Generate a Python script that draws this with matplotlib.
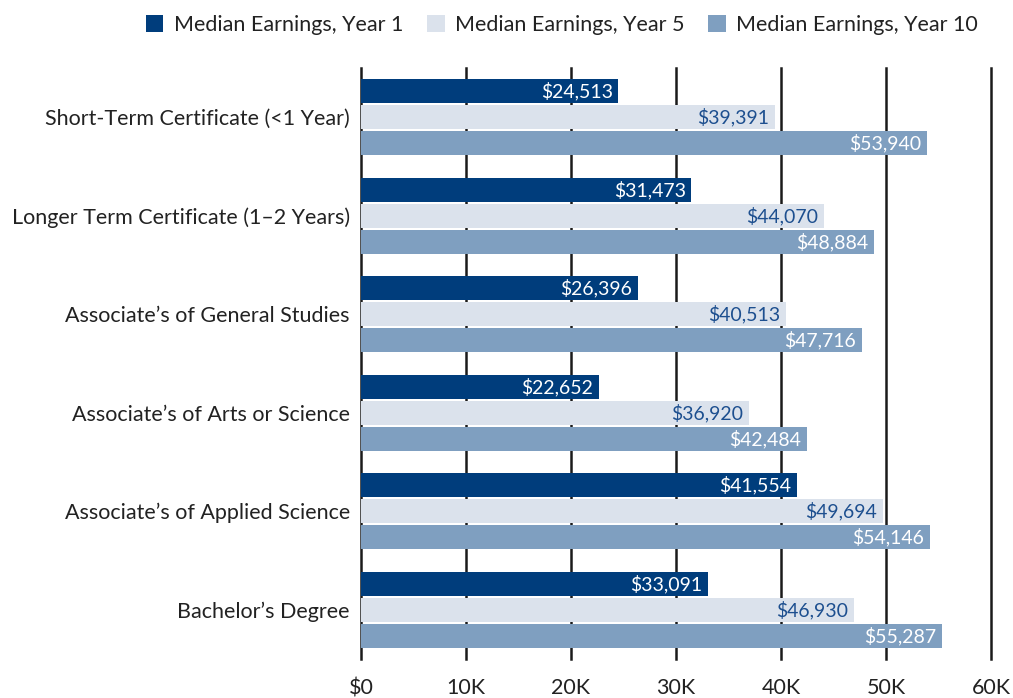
import matplotlib.pyplot as plt
import numpy as np


CATEGORIES = [
    "Short-Term Certificate (<1 Year)",
    "Longer Term Certificate (1\u20132 Years)",
    "Associate\u2019s of General Studies",
    "Associate\u2019s of Arts or Science",
    "Associate\u2019s of Applied Science",
    "Bachelor\u2019s Degree",
]

YEAR_1 = [24513, 31473, 26396, 22652, 41554, 33091]
YEAR_5 = [39391, 44070, 40513, 36920, 49694, 46930]
YEAR_10 = [53940, 48884, 47716, 42484, 54146, 55287]

SERIES_NAMES = [
    "Median Earnings, Year 1",
    "Median Earnings, Year 5",
    "Median Earnings, Year 10",
]

X_TICKS = [0, 10000, 20000, 30000, 40000, 50000, 60000]
X_TICK_LABELS = ["$0", "10K", "20K", "30K", "40K", "50K", "60K"]

COLORS = ["#003d7c", "#dbe2ec", "#7f9fc0"]
LABEL_COLORS = ["white", "#1d4f8f", "white"]

plt.rcParams["font.family"] = ["Lato", "DejaVu Sans"]

fig = plt.figure(figsize=(10.13, 6.98), dpi=100)
ax = fig.add_axes([361 / 1013, 1 - 659 / 698, 630 / 1013, 591 / 698])

y = np.arange(len(CATEGORIES))
offsets = [-0.264, 0.0, 0.264]
bar_h = 0.245

for values, name, color, label_color, off in zip(
    [YEAR_1, YEAR_5, YEAR_10], SERIES_NAMES, COLORS, LABEL_COLORS, offsets
):
    bars = ax.barh(y + off, values, height=bar_h, color=color, label=name, zorder=3)
    for bar, v in zip(bars, values):
        ax.text(
            v - 550,
            bar.get_y() + bar.get_height() / 2,
            f"${v:,}",
            ha="right",
            va="center",
            color=label_color,
            fontsize=14,
            zorder=4,
        )

ax.set_xlim(0, 60000)
ax.set_ylim(len(CATEGORIES) - 0.5, -0.5)

ax.set_xticks(X_TICKS)
ax.set_xticklabels(X_TICK_LABELS, fontsize=15.5, color="#222222")
ax.set_yticks(y)
ax.set_yticklabels(CATEGORIES, fontsize=15.5, color="#222222")
ax.tick_params(axis="x", length=0, pad=14)
ax.tick_params(axis="y", length=0, pad=8)

for x in X_TICKS:
    ax.axvline(x, color="#1a1a1a", linewidth=1.8, zorder=1, clip_on=False)

for spine in ax.spines.values():
    spine.set_visible(False)

ax.legend(
    loc="upper center",
    bbox_to_anchor=(0.555, 1.0),
    bbox_transform=fig.transFigure,
    ncol=3,
    frameon=False,
    fontsize=15.5,
    handlelength=0.8,
    handleheight=0.8,
    handletextpad=0.5,
    columnspacing=1.1,
    labelcolor="#222222",
    borderaxespad=0.3,
)

fig.savefig("out.png", dpi=100)
